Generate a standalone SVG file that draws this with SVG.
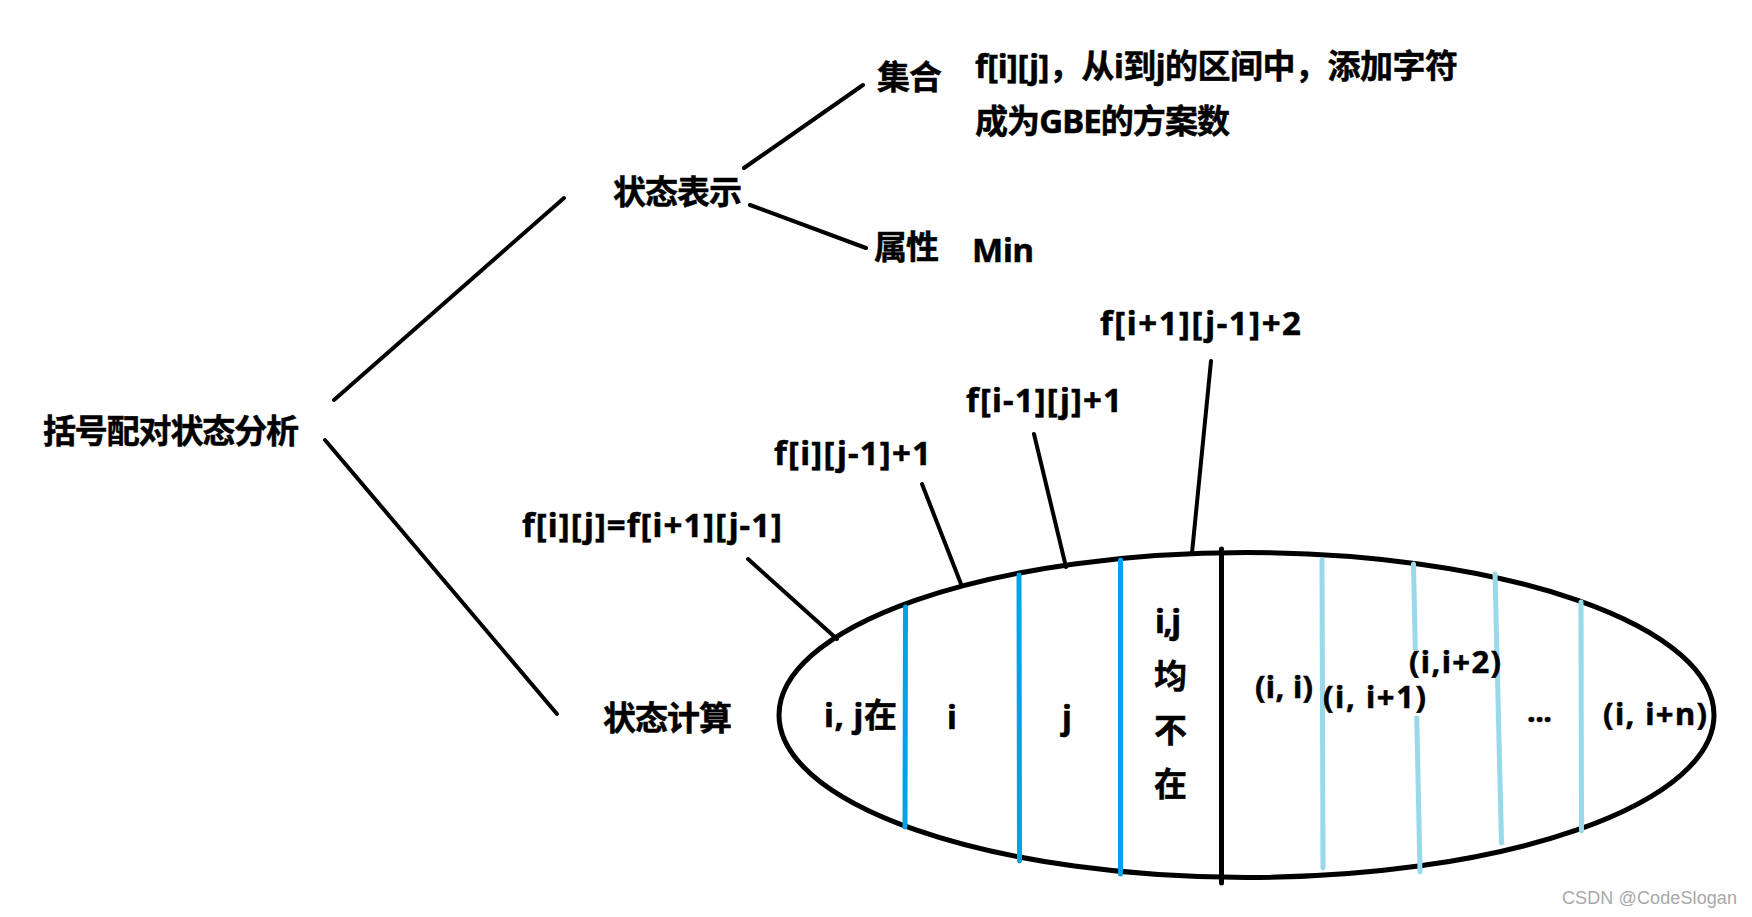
<svg xmlns="http://www.w3.org/2000/svg" width="1752" height="917" viewBox="0 0 1752 917">
<style>
text{font-family:"Noto Sans","Noto Sans CJK SC",sans-serif;font-weight:700;font-size:33px;fill:#000;stroke:#000;stroke-width:.5}
.l{font-size:31px}
.wm{font-family:"Liberation Sans",sans-serif;font-weight:400;font-size:18px;fill:#a8a8a8;stroke:none}
.k{stroke:#000;stroke-width:4;stroke-linecap:round;fill:none}
.e{stroke:#000;stroke-width:5;fill:none}
.b{stroke:#00a2e8;stroke-width:5;stroke-linecap:round;fill:none}
.c{stroke:#99d9ea;stroke-width:5;stroke-linecap:round;fill:none}
</style>
<rect width="1752" height="917" fill="#fff"/>
<g id="connectors">
<line class="k" x1="334" y1="400" x2="564" y2="198"/>
<line class="k" x1="325" y1="440" x2="557" y2="714"/>
<line class="k" x1="744" y1="168" x2="863" y2="85"/>
<line class="k" x1="750" y1="205" x2="866" y2="248"/>
<line class="k" x1="748" y1="559" x2="837" y2="639"/>
<line class="k" x1="922" y1="484" x2="961" y2="584"/>
<line class="k" x1="1034" y1="434" x2="1066" y2="567"/>
<line class="k" x1="1211" y1="361" x2="1192" y2="553"/>
</g>
<g id="ellipse">
<ellipse class="e" cx="1246.5" cy="715" rx="467.5" ry="162.5"/>
<line class="b" x1="905.500" y1="607" x2="905" y2="827"/>
<line class="b" x1="1019" y1="575" x2="1019.500" y2="861"/>
<line class="b" x1="1120.500" y1="560" x2="1120.500" y2="874"/>
<line class="e" x1="1221.500" y1="549" x2="1221.500" y2="883" stroke-linecap="round"/>
<line class="c" x1="1322" y1="560" x2="1323" y2="868"/>
<line class="c" x1="1413.500" y1="564" x2="1420" y2="872"/>
<line class="c" x1="1495" y1="574" x2="1501.500" y2="843"/>
<line class="c" x1="1581" y1="602" x2="1581.500" y2="831"/>
<rect x="1409" y="650" width="16" height="66" fill="#fff"/>
</g>
<g id="root"><text x="43" y="443" textLength="256">括号配对状态分析</text></g>
<g id="state-repr"><text x="613" y="204" textLength="129">状态表示</text></g>
<g id="set"><text x="877" y="89" textLength="65">集合</text></g>
<g id="attr"><text x="874" y="259" textLength="65">属性</text></g>
<g id="set-desc">
<text x="975" y="78" textLength="483">f[i][j]，从i到j的区间中，添加字符</text>
<text x="975" y="133" textLength="255">成为GBE的方案数</text>
</g>
<g id="attr-desc"><text x="972" y="262" textLength="62">Min</text></g>
<g id="state-calc"><text x="603" y="730" textLength="129">状态计算</text></g>
<g id="f1"><text x="522" y="537" textLength="260">f[i][j]=f[i+1][j-1]</text></g>
<g id="f2"><text x="774" y="465" textLength="157">f[i][j-1]+1</text></g>
<g id="f3"><text x="966" y="412" textLength="156">f[i-1][j]+1</text></g>
<g id="f4"><text x="1100" y="335" textLength="201">f[i+1][j-1]+2</text></g>
<g id="part-ij"><text x="824" y="727" textLength="73">i, j在</text></g>
<g id="part-i"><text x="947" y="729" textLength="9">i</text></g>
<g id="part-j"><text x="1062" y="729" textLength="9">j</text></g>
<g id="part-none">
<text x="1155" y="633" textLength="26">i,j</text>
<text x="1154" y="688" textLength="33">均</text>
<text x="1154" y="742" textLength="33">不</text>
<text x="1154" y="796" textLength="33">在</text>
</g>
<g id="r1"><text class="l" x="1255" y="698" textLength="58">(i, i)</text></g>
<g id="r2"><text class="l" x="1323" y="708" textLength="103">(i, i+1)</text></g>
<g id="r3"><text class="l" x="1409" y="673" textLength="92">(i,i+2)</text></g>
<g id="r4"><text class="l" x="1527" y="722" textLength="25">...</text></g>
<g id="r5"><text class="l" x="1603" y="725" textLength="104">(i, i+n)</text></g>
<text class="wm" x="1562" y="904" textLength="175">CSDN @CodeSlogan</text>
</svg>
